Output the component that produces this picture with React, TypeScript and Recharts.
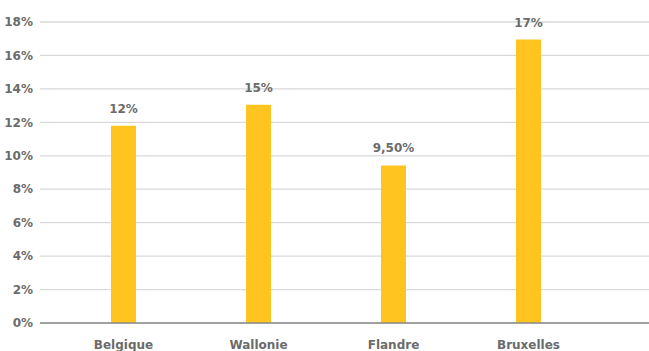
import React from "react";
import { BarChart, Bar, XAxis, YAxis, CartesianGrid, LabelList } from "recharts";

const categories = ["Belgique", "Wallonie", "Flandre", "Bruxelles"];
const values = [11.8, 13.05, 9.42, 16.95];
const labels = ["12%", "15%", "9,50%", "17%"];
const yTicks = [0, 2, 4, 6, 8, 10, 12, 14, 16, 18];

const data = categories.map((c, i) => ({ name: c, value: values[i], label: labels[i] }));

const FONT = "'DejaVu Sans', sans-serif";
const GRAY = "#6b6b6b";

export default function App() {
  return (
    <div style={{ position: "absolute", left: 0, top: 0 }}>
      <BarChart
        width={649}
        height={351}
        data={data}
        margin={{ top: 22, right: 0, bottom: 0, left: 0 }}
      >
        <CartesianGrid vertical={false} stroke="#d9d9d9" strokeWidth={1.3} />
        <XAxis
          dataKey="name"
          axisLine={{ stroke: "#8a8a8a", strokeWidth: 1.5 }}
          tickLine={false}
          height={28}
          tickMargin={11}
          padding={{ left: 16, right: 53 }}
          tick={{ fill: GRAY, fontFamily: FONT, fontSize: 12, fontWeight: 700 }}
          interval={0}
        />
        <YAxis
          domain={[0, 18]}
          ticks={yTicks}
          width={40}
          axisLine={false}
          tickLine={false}
          tickMargin={1}
          tickFormatter={(v) => `${v}%`}
          tick={{ fill: GRAY, fontFamily: FONT, fontSize: 12, fontWeight: 700 }}
        />
        <Bar dataKey="value" fill="#FFC41F" barSize={25} isAnimationActive={false}>
          <LabelList
            dataKey="label"
            position="top"
            offset={13}
            style={{ fill: GRAY, fontFamily: FONT, fontSize: 12, fontWeight: 700 }}
          />
        </Bar>
      </BarChart>
    </div>
  );
}
